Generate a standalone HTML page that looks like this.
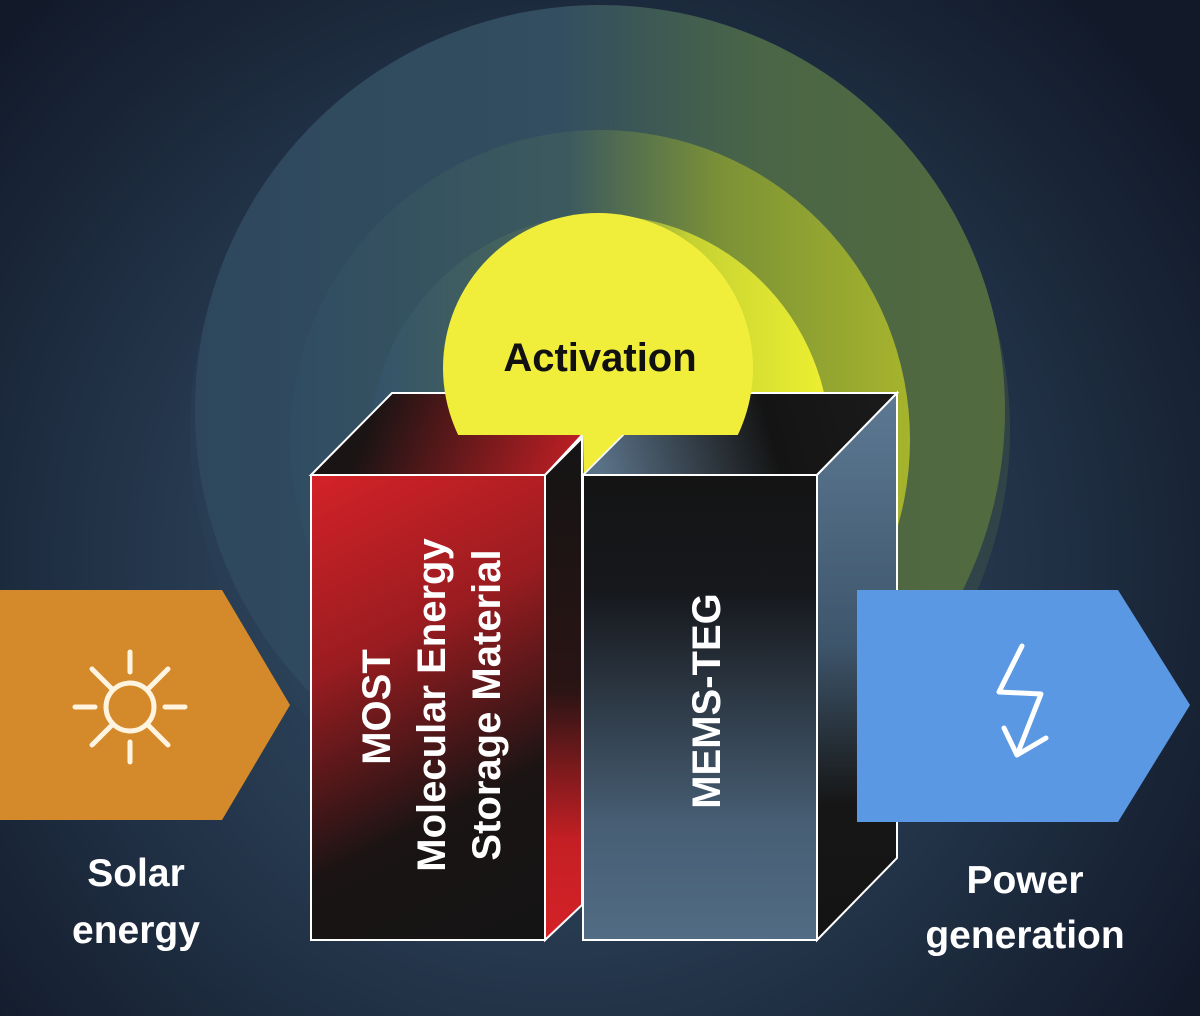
<!DOCTYPE html>
<html><head><meta charset="utf-8"><style>html,body{margin:0;padding:0;background:#1c2a3d}svg{display:block}</style></head>
<body>
<svg width="1200" height="1016" viewBox="0 0 1200 1016" xmlns="http://www.w3.org/2000/svg" font-family="Liberation Sans, sans-serif">
<defs>
<radialGradient id="bg" cx="560" cy="560" r="760" gradientUnits="userSpaceOnUse">
<stop offset="0" stop-color="#34526a"/><stop offset="0.5" stop-color="#26394f"/><stop offset="1" stop-color="#121a2a"/></radialGradient>
<linearGradient id="r1" x1="190" y1="0" x2="1100" y2="0" gradientUnits="userSpaceOnUse">
<stop offset="0" stop-color="#2b4258" stop-opacity="0.35"/><stop offset="0.55" stop-color="#344c5a" stop-opacity="0.5"/><stop offset="1" stop-color="#3d5040" stop-opacity="0.6"/></linearGradient>
<linearGradient id="r2" x1="195" y1="0" x2="1005" y2="0" gradientUnits="userSpaceOnUse">
<stop offset="0" stop-color="#2e475d"/><stop offset="0.45" stop-color="#334e60"/><stop offset="0.7" stop-color="#4a6646"/><stop offset="1" stop-color="#536a3e"/></linearGradient>
<linearGradient id="r3" x1="290" y1="0" x2="910" y2="0" gradientUnits="userSpaceOnUse">
<stop offset="0" stop-color="#304c62"/><stop offset="0.45" stop-color="#3c5a5e"/><stop offset="0.7" stop-color="#7c9236"/><stop offset="1" stop-color="#a6b42c"/></linearGradient>
<linearGradient id="r4" x1="370" y1="0" x2="830" y2="0" gradientUnits="userSpaceOnUse">
<stop offset="0" stop-color="#34536a"/><stop offset="0.4" stop-color="#4a6858"/><stop offset="0.7" stop-color="#c6d232"/><stop offset="1" stop-color="#eef030"/></linearGradient>
<linearGradient id="redF" x1="311" y1="475" x2="545" y2="940" gradientUnits="userSpaceOnUse">
<stop offset="0" stop-color="#d42228"/><stop offset="0.35" stop-color="#9a1c20"/><stop offset="0.7" stop-color="#1a1414"/><stop offset="1" stop-color="#141414"/></linearGradient>
<linearGradient id="redT" x1="380" y1="393" x2="580" y2="470" gradientUnits="userSpaceOnUse">
<stop offset="0" stop-color="#1a1414"/><stop offset="1" stop-color="#c41f24"/></linearGradient>
<linearGradient id="redR" x1="0" y1="440" x2="0" y2="940" gradientUnits="userSpaceOnUse">
<stop offset="0" stop-color="#141414"/><stop offset="0.5" stop-color="#2a1414"/><stop offset="0.8" stop-color="#c41f24"/><stop offset="1" stop-color="#d42228"/></linearGradient>
<linearGradient id="memF" x1="0" y1="475" x2="0" y2="940" gradientUnits="userSpaceOnUse">
<stop offset="0" stop-color="#141414"/><stop offset="0.25" stop-color="#16181c"/><stop offset="0.75" stop-color="#475e74"/><stop offset="1" stop-color="#516c84"/></linearGradient>
<linearGradient id="memT" x1="600" y1="470" x2="880" y2="393" gradientUnits="userSpaceOnUse">
<stop offset="0" stop-color="#5a7288"/><stop offset="0.6" stop-color="#141414"/><stop offset="1" stop-color="#1a1a1a"/></linearGradient>
<linearGradient id="memR" x1="0" y1="400" x2="0" y2="940" gradientUnits="userSpaceOnUse">
<stop offset="0" stop-color="#5c7892"/><stop offset="0.45" stop-color="#3e566c"/><stop offset="0.75" stop-color="#161616"/><stop offset="1" stop-color="#141414"/></linearGradient>
<clipPath id="cut"><rect x="0" y="0" width="1200" height="435"/></clipPath>
</defs>
<rect width="1200" height="1016" fill="url(#bg)"/>
<circle cx="600" cy="430" r="410" fill="url(#r1)"/>
<circle cx="600" cy="410" r="405" fill="url(#r2)"/>
<circle cx="600" cy="440" r="310" fill="url(#r3)"/>
<circle cx="600" cy="445" r="230" fill="url(#r4)"/>

<polygon points="311,475 392,393 582,393 582,435 545,475" fill="url(#redT)" stroke="#fff" stroke-width="2"/>
<polygon points="545,475 582,438 582,905 545,940" fill="url(#redR)" stroke="#fff" stroke-width="2"/>
<rect x="311" y="475" width="234" height="465" fill="url(#redF)" stroke="#fff" stroke-width="2"/>
<polygon points="583,475 665,393 897,393 817,475" fill="url(#memT)" stroke="#fff" stroke-width="2"/>
<polygon points="817,475 897,393 897,858 817,940" fill="url(#memR)" stroke="#fff" stroke-width="2"/>
<rect x="583" y="475" width="234" height="465" fill="url(#memF)" stroke="#fff" stroke-width="2"/>

<circle cx="598" cy="368" r="155" fill="#f0ee3a" clip-path="url(#cut)"/>
<polygon points="583,435 622,435 584,473" fill="#f0ee3a"/>
<text x="600" y="371" font-size="40" font-weight="bold" fill="#111" text-anchor="middle">Activation</text>

<g fill="#fff" font-size="40" font-weight="bold" text-anchor="middle">
<text transform="translate(390,707) rotate(-90)">MOST</text>
<text transform="translate(445,705) rotate(-90)">Molecular Energy</text>
<text transform="translate(500,705) rotate(-90)">Storage Material</text>
<text transform="translate(720,701) rotate(-90)">MEMS-TEG</text>
</g>

<polygon points="0,590 222,590 290,705 222,820 0,820" fill="#d4892a"/>
<g stroke="#fff4e0" stroke-width="5" stroke-linecap="round" fill="none">
<circle cx="130" cy="707" r="24"/>
<line x1="130" y1="672" x2="130" y2="652"/><line x1="130" y1="742" x2="130" y2="762"/>
<line x1="95" y1="707" x2="75" y2="707"/><line x1="165" y1="707" x2="185" y2="707"/>
<line x1="112" y1="689" x2="92" y2="669"/><line x1="148" y1="689" x2="168" y2="669"/>
<line x1="112" y1="725" x2="92" y2="745"/><line x1="148" y1="725" x2="168" y2="745"/>
</g>
<polygon points="857,590 1118,590 1190,705 1118,822 857,822" fill="#5a98e4"/>
<g stroke="#fff" stroke-width="5" stroke-linecap="round" stroke-linejoin="round" fill="none">
<polyline points="1022,646 999,692 1041,694 1017,755"/>
<polyline points="1004,728 1017,755 1046,738"/>
</g>

<g fill="#fff" font-size="39" font-weight="bold" text-anchor="middle">
<text x="136" y="886">Solar</text>
<text x="136" y="943">energy</text>
<text x="1025" y="893">Power</text>
<text x="1025" y="948">generation</text>
</g>
</svg>
</body></html>
